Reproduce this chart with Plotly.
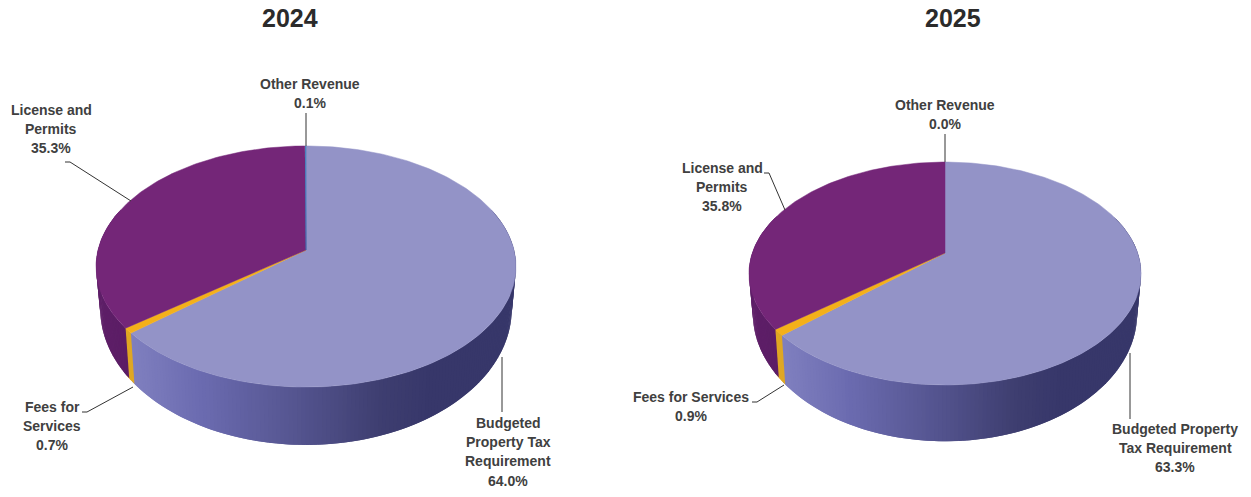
import math
import plotly.graph_objects as go

categories = ["Budgeted Property Tax Requirement", "Fees for Services", "License and Permits", "Other Revenue"]
values_2024 = [64.0, 0.7, 35.3, 0.1]
values_2025 = [63.3, 0.9, 35.8, 0.0]
titles = ["2024", "2025"]
top_colors = ["#9393c7", "#f4b01a", "#742678", "#2e75b6"]

W, H = 1251, 497
TEXT = "#404040"
FONT = "Liberation Sans, Arial, sans-serif"
LINE_GAP = 19.2


def hex2rgb(c):
    return [int(c[i:i + 2], 16) for i in (1, 3, 5)]


# gradient stops over the pie's width (0 = left edge, 1 = right edge)
BLUE_STOPS = [(0.07, "#8181c0"), (0.25, "#6b6bb0"), (0.48, "#54548f"), (0.68, "#3e3e70"), (0.80, "#37376a"), (1.0, "#37376a")]
PURPLE_STOPS = [(0.0, "#5e1f68"), (0.1, "#5a1c64"), (1.0, "#5a1c64")]
ORANGE_STOPS = [(0.0, "#dfa723"), (1.0, "#dfa723")]
OTHER_STOPS = [(0.0, "#37376a"), (1.0, "#37376a")]
WALLS = [BLUE_STOPS, ORANGE_STOPS, PURPLE_STOPS, OTHER_STOPS]


def ramp(stops, f):
    if f <= stops[0][0]:
        return stops[0][1]
    for (a, ca), (b, cb) in zip(stops, stops[1:]):
        if f <= b:
            t = (f - a) / (b - a)
            p, q = hex2rgb(ca), hex2rgb(cb)
            return "rgb(%d,%d,%d)" % tuple(round(p[i] + (q[i] - p[i]) * t) for i in range(3))
    return stops[-1][1]


def add_pie(fig, values, cx, cy, A, B, k, sx, sy, D):
    def top(th):
        u, v = math.sin(th), math.cos(th)
        d = 1 + k * v
        return B * u / d, A * v / d

    def pt_top(th):
        X, Y = top(th)
        return cx + X, cy - Y

    def pt_bot(th):
        X, Y = top(th)
        return cx + X * sx, cy - (Y * sy - D)

    total = sum(values)
    left, right = cx - B * 1.01, cx + B * 1.01
    step = 2 * math.pi / 360
    # walls first, each slice running under the next one so no seams show
    start = 0.0
    for val, stops, name in zip(values, WALLS, categories):
        sweep = 2 * math.pi * val / total
        n = max(1, int(sweep / step))
        for i in range(n):
            a = start + sweep * i / n
            b = start + sweep * (i + 1) / n
            if math.cos((a + b) / 2) > 0.35:
                continue
            e = b + step
            ts = [a, b, e]
            xs = [pt_top(t)[0] for t in ts] + [pt_bot(t)[0] for t in reversed(ts)]
            ys = [pt_top(t)[1] for t in ts] + [pt_bot(t)[1] for t in reversed(ts)]
            col = ramp(stops, ((pt_top(a)[0] + pt_top(b)[0]) / 2 - left) / (right - left))
            fig.add_trace(go.Scatter(x=xs + xs[:1], y=ys + ys[:1], mode="lines",
                                     fill="toself", fillcolor=col, line=dict(width=0),
                                     hoverinfo="skip", showlegend=False, name=name))
        start += sweep
    start = 0.0
    for val, col, name in zip(values, top_colors, categories):
        sweep = 2 * math.pi * val / total
        if val > 0:
            n = max(2, int(math.degrees(sweep)))
            pts = [pt_top(start + sweep * i / n) for i in range(n + 1)]
            xs = [cx] + [p[0] for p in pts] + [cx]
            ys = [cy] + [p[1] for p in pts] + [cy]
            fig.add_trace(go.Scatter(x=xs, y=ys, mode="lines", fill="toself", fillcolor=col,
                                     line=dict(color=col, width=0.5), name=name,
                                     hovertemplate=name + ": %.1f%%<extra></extra>" % val, showlegend=False))
        start += sweep


fig = go.Figure()
add_pie(fig, values_2024, cx=306, cy=250, A=118.3, B=208, k=0.137, sx=0.98, sy=1.13, D=40)
add_pie(fig, values_2025, cx=945, cy=253, A=107.7, B=192.7, k=0.184, sx=0.98, sy=1.146, D=37)

# leader lines
leaders = [
    [(306, 113), (306, 146)],
    [(65, 162), (70, 162), (131, 201)],
    [(82, 412), (87, 412), (133, 387)],
    [(502, 357), (502, 412)],
    [(945, 134), (945, 162)],
    [(764, 173), (769, 173), (785, 210)],
    [(752, 402), (757, 402), (784, 385)],
    [(1130, 353), (1130, 419)],
]
for seg in leaders:
    fig.add_trace(go.Scatter(x=[p[0] for p in seg], y=[p[1] for p in seg], mode="lines",
                             line=dict(color="#333333", width=1), hoverinfo="skip", showlegend=False))

labels = [
    (310, 84, ["Other Revenue", "%.1f%%" % values_2024[3]]),
    (51, 110, ["License and", "Permits", "%.1f%%" % values_2024[2]]),
    (52, 407, ["Fees for", "Services", "%.1f%%" % values_2024[1]]),
    (508, 423, ["Budgeted", "Property Tax", "Requirement", "%.1f%%" % values_2024[0]]),
    (945, 105, ["Other Revenue", "%.1f%%" % values_2025[3]]),
    (722, 168, ["License and", "Permits", "%.1f%%" % values_2025[2]]),
    (691, 397, ["Fees for Services", "%.1f%%" % values_2025[1]]),
    (1175, 429, ["Budgeted Property", "Tax Requirement", "%.1f%%" % values_2025[0]]),
]
annotations = []
for x, y, lines in labels:
    for i, t in enumerate(lines):
        annotations.append(dict(x=x, y=y + i * LINE_GAP, text="<b>%s</b>" % t, showarrow=False,
                                xanchor="center", yanchor="middle",
                                font=dict(family=FONT, size=14, color=TEXT)))
for x, t in zip((290, 953), titles):
    annotations.append(dict(x=x, y=18, text="<b>%s</b>" % t, showarrow=False, xanchor="center", yanchor="middle",
                            font=dict(family=FONT, size=25, color="#2b2b2b")))

fig.update_layout(
    width=W, height=H, margin=dict(l=0, r=0, t=0, b=0),
    paper_bgcolor="white", plot_bgcolor="white",
    xaxis=dict(range=[0, W], visible=False, fixedrange=True),
    yaxis=dict(range=[H, 0], visible=False, fixedrange=True),
    annotations=annotations, showlegend=False,
)
fig.write_html("out.html", config={"displayModeBar": False},
               post_script="document.body.style.margin='0';document.documentElement.style.overflow='hidden';")
